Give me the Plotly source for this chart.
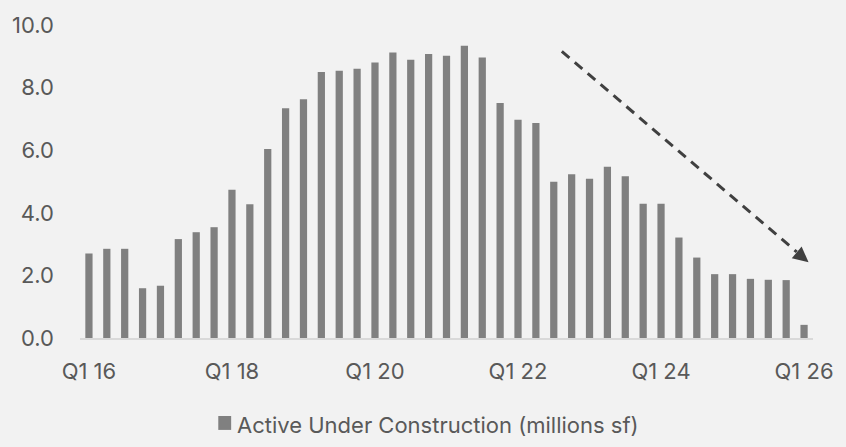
import plotly.graph_objects as go

# Quarterly categories Q1 2016 .. Q1 2026
years = [16, 17, 18, 19, 20, 21, 22, 23, 24, 25, 26]
quarters = [f"Q{q} {y}" for y in years for q in (1, 2, 3, 4)][:41]

# Active under construction, millions sf
under_construction = [
    2.70, 2.85, 2.85, 1.59, 1.67, 3.16, 3.38, 3.54, 4.74, 4.27,
    6.04, 7.34, 7.63, 8.50, 8.54, 8.60, 8.80, 9.12, 8.89, 9.07,
    9.02, 9.34, 8.96, 7.51, 6.97, 6.87, 4.99, 5.23, 5.09, 5.47,
    5.17, 4.29, 4.29, 3.21, 2.57, 2.04, 2.04, 1.89, 1.86, 1.85,
    0.42,
]

tick_labels = ["Q1 16", "Q1 18", "Q1 20", "Q1 22", "Q1 24", "Q1 26"]
y_ticks = [0, 2, 4, 6, 8, 10]
y_tick_text = ["0.0", "2.0", "4.0", "6.0", "8.0", "10.0"]

legend_label = "Active Under Construction (millions sf)"

# Trend arrow (category index, value)
trend_start = (26.45, 9.16)
trend_end = (40.25, 2.42)

BG = "#f2f2f2"
BAR = "#808080"
TEXT = "#595959"
FONT = "Inter"
FSIZE = 22

fig = go.Figure()
fig.add_trace(go.Bar(
    x=list(range(len(quarters))),
    y=under_construction,
    marker=dict(color=BAR, line=dict(width=0)),
    name=legend_label,
    showlegend=False,
    hovertext=quarters,
))

# dashed trend line ending under the arrow head
fig.add_shape(
    type="line", xref="x", yref="y",
    x0=trend_start[0], y0=trend_start[1],
    x1=trend_end[0] - 0.66, y1=trend_end[1] + 0.33,
    line=dict(color="#404040", width=3, dash="10px,7px"),
)
fig.add_annotation(
    x=trend_end[0], y=trend_end[1], xref="x", yref="y",
    ax=-12, ay=-10, text="", showarrow=True,
    arrowhead=2, arrowsize=1.1, arrowwidth=2.8, arrowcolor="#404040",
)

# legend: swatch + label
fig.add_shape(
    type="rect", xref="paper", yref="paper",
    x0=(216 - 76.5) / 739.5, x1=(229 - 76.5) / 739.5,
    y0=(338.5 - 431) / 315, y1=(338.5 - 417) / 315,
    fillcolor=BAR, line=dict(width=0),
)
fig.add_annotation(
    x=(233 - 76.5) / 739.5, y=(338.5 - 426) / 315, xref="paper", yref="paper",
    text=legend_label, showarrow=False, xanchor="left", yanchor="middle",
    font=dict(family=FONT, size=FSIZE, color=TEXT),
)

fig.update_layout(
    width=846, height=447,
    margin=dict(l=76.5, r=30, t=23.5, b=108.5),
    paper_bgcolor=BG, plot_bgcolor=BG,
    bargap=0.595,
    font=dict(family=FONT, size=FSIZE, color=TEXT),
    showlegend=False,
)
fig.update_xaxes(
    range=[-0.5, 40.5],
    tickmode="array",
    tickvals=[quarters.index(t) for t in tick_labels],
    ticktext=tick_labels,
    showgrid=False, zeroline=False,
    showline=True, linecolor="#d9d9d9", linewidth=2,
    ticks="", ticklabelstandoff=13,
    tickfont=dict(family=FONT, size=FSIZE, color=TEXT),
)
fig.update_yaxes(
    range=[0, 10],
    tickmode="array", tickvals=y_ticks, ticktext=y_tick_text,
    showgrid=False, zeroline=False, showline=False,
    ticks="", ticklabelstandoff=25,
    tickfont=dict(family=FONT, size=FSIZE, color=TEXT),
)

fig.write_html("out.html")
